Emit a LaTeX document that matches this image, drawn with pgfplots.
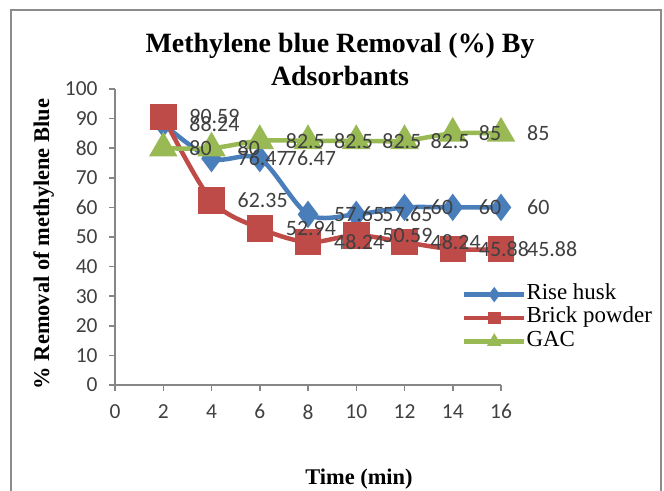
\documentclass[border=0pt]{standalone}
\usepackage{pgfplots}
\pgfplotsset{compat=1.18}
\usepackage{pgfplotstable}
\usepackage{fontspec}
\setmainfont{Liberation Serif}
\newfontfamily\calibri{Carlito}
\definecolor{rh}{HTML}{4A7EBB}
\definecolor{bp}{HTML}{BE4B48}
\definecolor{gac}{HTML}{98B954}
\definecolor{axgray}{HTML}{868686}
\definecolor{txtgray}{HTML}{404040}
\definecolor{framegray}{HTML}{8C8C8C}

\pgfplotstableread{
x y lab
2 88.24 88.24
4 76.47 76.47
6 76.47 76.47
8 57.65 57.65
10 57.65 57.65
12 60 60
14 60 60
16 60 60
}\rise
\pgfplotstableread{
x y lab
2 90.59 90.59
4 62.35 62.35
6 52.94 52.94
8 48.24 48.24
10 50.59 50.59
12 48.24 48.24
14 45.88 45.88
16 45.88 45.88
}\brick
\pgfplotstableread{
x y lab
2 80 80
4 80 80
6 82.5 82.5
8 82.5 82.5
10 82.5 82.5
12 82.5 82.5
14 85 85
16 85 85
}\gacdata

\begin{document}
\begin{tikzpicture}
\useasboundingbox (0,0) rectangle (664bp,-491bp);
\fill[white] (0,0) rectangle (664bp,-491bp);
\draw[framegray, line width=2.5bp] (11bp,-10bp) rectangle (661bp,-520bp);
\begin{axis}[
  at={(115bp,-385bp)}, anchor=south west,
  scale only axis, width=386bp, height=296bp,
  xmin=0, xmax=16, ymin=0, ymax=100,
  xtick={0,2,...,16}, ytick={0,10,...,100},
  axis x line*=bottom, axis y line*=left,
  axis line style={axgray, line width=2bp},
  tick style={axgray, line width=1.5bp},
  tick align=outside, major tick length=6bp,
  ticklabel style={font=\calibri\fontsize{21.5}{21.5}\selectfont, text=txtgray},
  xticklabel style={yshift=-10bp},
  yticklabel style={xshift=-8bp},
  /pgf/number format/assume math mode=true,
  clip=false,
  legend style={at={(0.899,0.345)}, anchor=north west, draw=none, fill=none,
    inner sep=0pt, outer sep=0pt, row sep=0pt, column sep=0bp,
    font=\fontsize{23}{23.5}\selectfont,
    nodes={inner sep=0pt, text height=16.5bp, text depth=7bp}},
  legend cell align=left,
  legend image code/.code={
    \draw[#1, line width=4.5bp, mark=none] (0bp,0bp) -- (60bp,0bp);
    \draw[#1, mark size=4bp, mark options={solid}] plot coordinates {(30bp,0bp)};
  },
]
\addplot[rh, line width=4.5bp, smooth, mark=diamond*, mark size=10bp, mark options={solid, fill=rh}] table[x=x, y=y] {\rise};
\addlegendentry{Rise husk}
\addplot[bp, line width=4.5bp, smooth, mark=square*, mark size=11bp, mark options={solid, fill=bp}] table[x=x, y=y] {\brick};
\addlegendentry{Brick powder}
\addplot[gac, line width=4.5bp, smooth, mark=triangle*, mark size=12bp, mark options={solid, fill=gac}] table[x=x, y=y] {\gacdata};
\addlegendentry{GAC}

\pgfplotsset{lblstyle/.style={draw=none, mark=none, forget plot,
  point meta=explicit symbolic, nodes near coords, nodes near coords align=horizontal,
  every node near coord/.style={anchor=west, xshift=26bp, inner sep=0pt,
    font=\calibri\fontsize{22}{22}\selectfont, text=txtgray}}}
\addplot[lblstyle] table[x=x, y=y, meta=lab] {\rise};
\addplot[lblstyle] table[x=x, y=y, meta=lab] {\brick};
\addplot[lblstyle] table[x=x, y=y, meta=lab] {\gacdata};
\end{axis}
\node[anchor=base, font=\bfseries\fontsize{28}{33}\selectfont] at (340bp,-52bp) {Methylene blue Removal (\%) By};
\node[anchor=base, font=\bfseries\fontsize{28}{33}\selectfont] at (340bp,-85bp) {Adsorbants};
\node[anchor=base, rotate=90, font=\bfseries\fontsize{22.5}{22.5}\selectfont] at (49bp,-244bp) {\% Removal of methylene Blue};
\node[anchor=base, font=\bfseries\fontsize{22.5}{22.5}\selectfont] at (359bp,-484bp) {Time (min)};
\end{tikzpicture}
\end{document}
